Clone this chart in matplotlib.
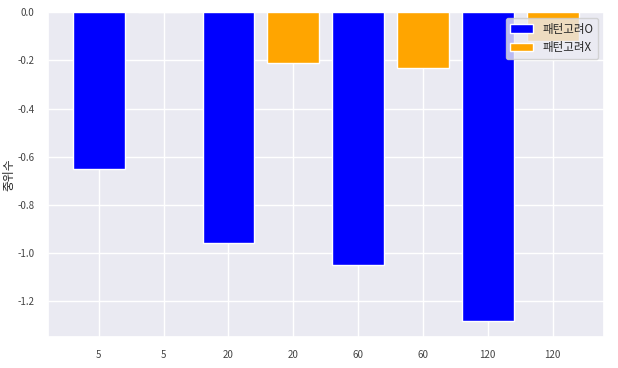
import matplotlib
matplotlib.use('Agg')
import matplotlib.pyplot as plt
import seaborn as sns

sns.set_theme(style='darkgrid')
plt.rcParams['font.family'] = ['Noto Sans CJK KR', 'DejaVu Sans']
plt.rcParams['axes.unicode_minus'] = False

tick_labels = ['5', '5', '20', '20', '60', '60', '120', '120']
pattern_o = [-0.652, -0.959, -1.051, -1.283]   # 패턴고려O
pattern_x = [0.0, -0.212, -0.233, -0.12]       # 패턴고려X

fig, ax = plt.subplots(figsize=(6.18, 3.68), dpi=100)

pos_o = [0, 2, 4, 6]
pos_x = [1, 3, 5, 7]
ax.bar(pos_o, pattern_o, color='blue', label='패턴고려O')
ax.bar(pos_x, pattern_x, color='orange', label='패턴고려X')

ax.set_xticks(range(8))
ax.set_xticklabels(tick_labels)
ax.tick_params(labelsize=7, colors='#444444')
ax.set_ylabel('중위수', fontsize=8.5, labelpad=1)
ax.legend(loc='upper right', fontsize=8.3)

fig.subplots_adjust(left=0.077, right=0.977, top=0.967, bottom=0.085)
fig.savefig('out.png')
